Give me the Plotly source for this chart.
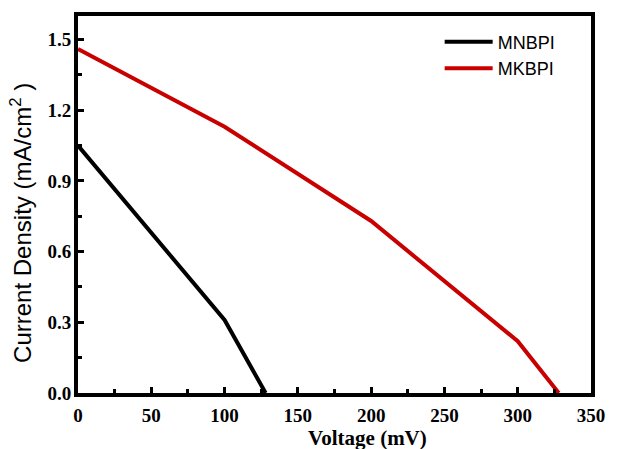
import plotly.graph_objects as go

mnbpi_v = [0, 100, 128]
mnbpi_j = [1.05, 0.31, 0.0]
mkbpi_v = [0, 100, 200, 300, 328]
mkbpi_j = [1.46, 1.13, 0.73, 0.22, 0.0]

x_ticks = [0, 50, 100, 150, 200, 250, 300, 350]
x_minor = [25, 75, 125, 175, 225, 275, 325]
y_ticks = [0, 0.3, 0.6, 0.9, 1.2, 1.5]
y_labels = ["0.0", "0.3", "0.6", "0.9", "1.2", "1.5"]
y_minor = [0.15, 0.45, 0.75, 1.05, 1.35]

fig = go.Figure()
fig.add_trace(go.Scatter(x=mnbpi_v, y=mnbpi_j, mode="lines", name="MNBPI",
                         line=dict(color="black", width=4)))
fig.add_trace(go.Scatter(x=mkbpi_v, y=mkbpi_j, mode="lines", name="MKBPI",
                         line=dict(color="#c80000", width=4)))

tickfont = dict(family="Liberation Serif", size=19, color="black", weight="bold")
L, R, T, B = 78, 16, 15, 56
fig.update_layout(
    width=617, height=449,
    margin=dict(l=L, r=R, t=T, b=B),
    paper_bgcolor="white", plot_bgcolor="white",
    showlegend=True,
    legend=dict(x=0.705, y=0.98, xanchor="left", yanchor="top",
                font=dict(family="Liberation Sans", size=18, color="black"),
                bgcolor="rgba(0,0,0,0)", tracegroupgap=0, itemwidth=48),
)
fig.update_xaxes(range=[0, 350], tickvals=x_ticks,
                 ticks="inside", ticklen=6, tickwidth=3, tickcolor="black",
                 minor=dict(tickvals=x_minor, ticks="inside", ticklen=4, tickwidth=3, tickcolor="black"),
                 showline=True, linewidth=4, linecolor="black", mirror=True,
                 showgrid=False, zeroline=False, tickfont=tickfont, ticklabelstandoff=2)
fig.update_yaxes(range=[0, 1.6], tickvals=y_ticks, ticktext=y_labels,
                 ticks="inside", ticklen=6, tickwidth=3, tickcolor="black",
                 minor=dict(tickvals=y_minor, ticks="inside", ticklen=4, tickwidth=3, tickcolor="black"),
                 showline=True, linewidth=4, linecolor="black", mirror=True,
                 showgrid=False, zeroline=False, tickfont=tickfont, ticklabelstandoff=-1)

fig.add_annotation(text="Voltage (mV)", xref="paper", yref="paper",
                   x=0.565, y=-0.119, xanchor="center", yanchor="middle", showarrow=False,
                   font=dict(family="Liberation Serif", size=21, color="black", weight="bold"))
fig.add_annotation(text="Current Density (mA/cm<sup>2</sup> )", xref="paper", yref="paper",
                   x=-0.11, y=0.45, xanchor="center", yanchor="middle", showarrow=False,
                   textangle=-90,
                   font=dict(family="Liberation Sans", size=24, color="black"))

fig.write_html("out.html")
